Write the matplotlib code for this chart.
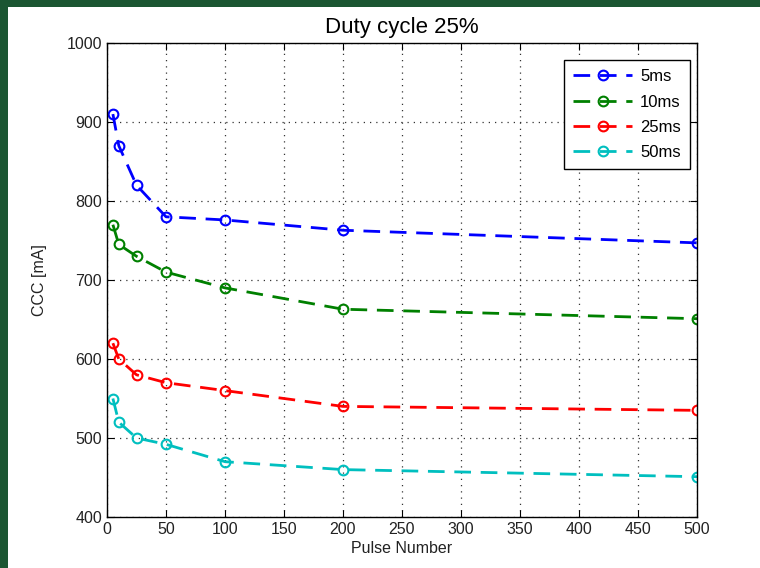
import matplotlib
matplotlib.use("Agg")
from matplotlib import pyplot as plt
from matplotlib.patches import Rectangle

plt.rcParams["font.family"] = ["Liberation Sans", "DejaVu Sans"]

pulses = [5, 10, 25, 50, 100, 200, 500]
ccc_5ms = [910, 870, 820, 780, 776, 763, 747]
ccc_10ms = [770, 745, 730, 710, 690, 663, 651]
ccc_25ms = [620, 600, 580, 570, 560, 540, 535]
ccc_50ms = [550, 520, 500, 492, 470, 460, 451]

series = [
    ("5ms", ccc_5ms, "#0000ff"),
    ("10ms", ccc_10ms, "#008000"),
    ("25ms", ccc_25ms, "#ff0000"),
    ("50ms", ccc_50ms, "#00bfbf"),
]

fig = plt.figure(figsize=(7.6, 5.68), dpi=100)
fig.patch.set_facecolor("#1b5632")
# white slide area (green border on top and left only)
fig.add_artist(Rectangle((8 / 760, 0), 1, 1 - 7 / 568, transform=fig.transFigure,
                         facecolor="white", edgecolor="none", zorder=0))

ax = fig.add_axes([107 / 760, 1 - 517 / 568, 590 / 760, 474 / 568])
for name, vals, col in series:
    ax.plot(pulses, vals, color=col, linestyle=(0, (6, 3.5)), linewidth=2,
            marker="o", markersize=7, markerfacecolor="none",
            markeredgewidth=1.5, label=name)

ax.set_xlim(0, 500)
ax.set_ylim(400, 1000)
ax.set_xticks(range(0, 501, 50))
ax.set_yticks(range(400, 1001, 100))
ax.grid(True, color="#333333", linestyle=(0, (1, 4)), linewidth=0.9)
ax.tick_params(direction="in", top=True, right=True, labelsize=11.5,
               length=5, labelcolor="#222222")
for s in ax.spines.values():
    s.set_linewidth(1.0)

ax.set_title("Duty cycle 25%", fontsize=16, pad=7)
ax.set_xlabel("Pulse Number", fontsize=11.5, labelpad=3, color="#222222")
ax.set_ylabel("CCC [mA]", fontsize=11.5, labelpad=14, color="#222222")

leg = ax.legend(loc="upper right", bbox_to_anchor=(0.988, 0.964),
                fontsize=12, fancybox=False, edgecolor="black", framealpha=1,
                handlelength=3.5, borderaxespad=0, labelspacing=0.62,
                borderpad=0.55, handletextpad=0.5)
leg.get_frame().set_linewidth(1.0)

fig.savefig("out.png", dpi=100, facecolor=fig.get_facecolor())
